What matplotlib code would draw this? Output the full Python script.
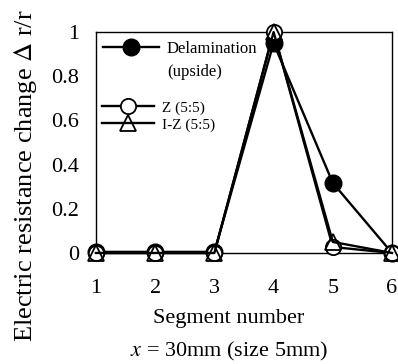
import matplotlib.pyplot as plt
from matplotlib.lines import Line2D

plt.rcParams['font.family'] = ['Liberation Serif', 'DejaVu Serif']
plt.rcParams['mathtext.fontset'] = 'stix'

segments = [1, 2, 3, 4, 5, 6]
delamination = [0.005, 0.005, 0.005, 0.95, 0.317, 0.0]
z_55 = [0.0, 0.0, 0.0, 1.0, 0.027, 0.0]
iz_55 = [0.0, 0.0, 0.0, 1.0, 0.05, 0.0]

yticks = [0, 0.2, 0.4, 0.6, 0.8, 1]
ytick_labels = ['0', '0.2', '0.4', '0.6', '0.8', '1']

fig = plt.figure(figsize=(3.98, 3.64), dpi=100)
ax = fig.add_axes([0.241, 0.305, 0.744, 0.607])

l1, = ax.plot(segments, delamination, color='black', lw=1.7, marker='o', ms=12,
              mfc='black', mec='black', clip_on=False, zorder=3)
l2, = ax.plot(segments, z_55, color='black', lw=1.7, marker='o', ms=11,
              mfc='white', mec='black', mew=1.3, clip_on=False, zorder=4)
l3, = ax.plot(segments, iz_55, color='black', lw=1.7, marker='^', ms=11,
              mfc='none', mec='black', mew=1.3, clip_on=False, zorder=4)

ax.set_xlim(1, 6)
ax.set_ylim(0, 1)
ax.set_xticks(segments)
ax.set_yticks(yticks)
ax.set_yticklabels(ytick_labels)
ax.tick_params(axis='x', length=0, labelsize=16, pad=19)
ax.tick_params(axis='y', length=0, labelsize=16, pad=12)
for s in ax.spines.values():
    s.set_linewidth(1.0)

fig.text(0.063, 0.516, r'Electric resistance change $\Delta$ r/r', fontsize=19,
         rotation=90, ha='center', va='center')
fig.text(0.575, 0.124, 'Segment number', fontsize=16, ha='center', va='center')
fig.text(0.575, 0.034, r'$x$ = 30mm (size 5mm)', fontsize=16, ha='center', va='center')

# two legends so the multi-line label and the tighter pair can be spaced separately
blank = Line2D([], [], color='none')
leg1 = ax.legend([l1, blank], ['Delamination', '(upside)'], loc='upper left',
                 bbox_to_anchor=(0.0, 0.99), frameon=False, fontsize=12,
                 handlelength=3.4, labelspacing=0.45, handletextpad=0.45,
                 borderaxespad=0.0)
ax.add_artist(leg1)
leg2 = ax.legend([l2, l3], ['Z (5:5)', 'I-Z (5:5)'], loc='upper left',
                 bbox_to_anchor=(0.0, 0.715), frameon=False, fontsize=11,
                 handlelength=3.4, labelspacing=0.2, handletextpad=0.5,
                 borderaxespad=0.0)

fig.savefig('out.png', dpi=100)
